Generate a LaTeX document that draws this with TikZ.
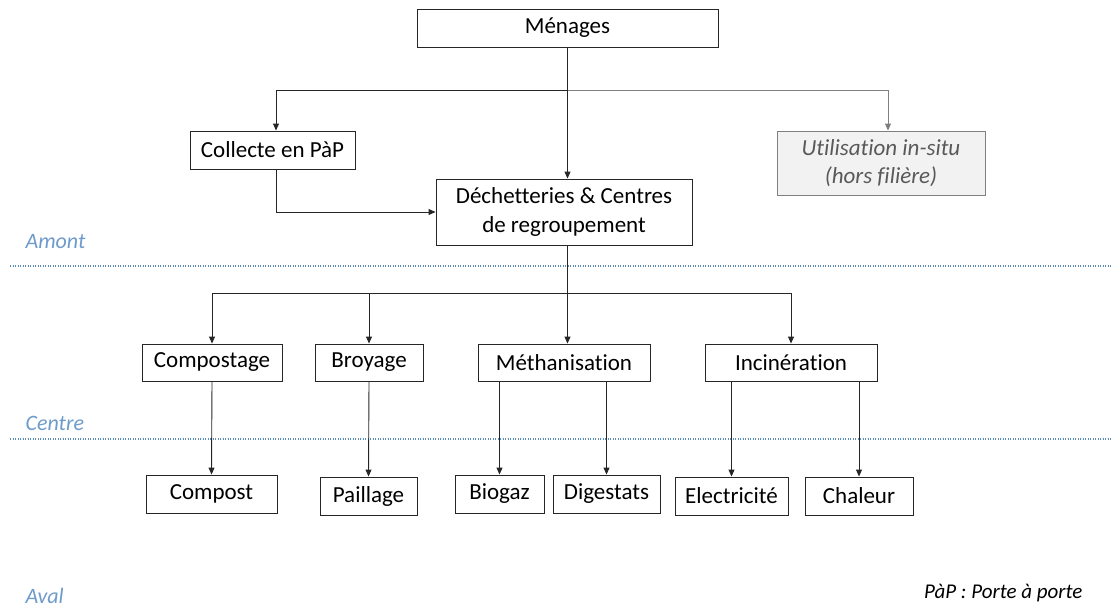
\documentclass[tikz,border=0pt]{standalone}
\usepackage{fontspec}
\setmainfont{Carlito}[Ligatures=NoCommon]
\usetikzlibrary{arrows.meta,calc}
\definecolor{lbl}{HTML}{6E9BCB}
\definecolor{dotc}{HTML}{5B8DB8}
\definecolor{linec}{HTML}{262626}
\definecolor{greyline}{HTML}{7F7F7F}
\begin{document}
\begin{tikzpicture}[x=1pt,y=-1pt,
  box/.style={draw=linec,line width=0.9pt,fill=white,inner sep=0pt,align=center,font=\fontsize{23}{29}\selectfont},
  arr/.style={draw=linec,line width=0.9pt,-{Triangle[length=7pt,width=6pt]}},
  zone/.style={anchor=west,text=lbl,font=\itshape\fontsize{22}{26}\selectfont},
  sep/.style={draw=dotc,line width=1.4pt,dash pattern=on 1.2pt off 1.3pt}]
\useasboundingbox (0,0) rectangle (1113,608);
% top
\node[box,minimum width=301,minimum height=38] (men) at (567.5,28) {Ménages};
\node[box,minimum width=165,minimum height=38] (coll) at (272.5,150) {Collecte en PàP};
\node[box,minimum width=256,minimum height=66] (deche) at (564,212) {Déchetteries \& Centres\\de regroupement};
\node[box,draw=greyline,fill=black!5,text=black!65,font=\itshape\fontsize{23}{28}\selectfont,minimum width=208,minimum height=64] (util) at (881,163) {Utilisation in-situ\\(hors filière)};
% zones
\node[zone] (amont) at (22,242) {Amont};
\node[zone] (centre) at (22,423) {Centre};
\node[zone] (aval) at (22,596) {Aval};
\coordinate (l1a) at (10,266); \coordinate (l1b) at (1113,266);
\coordinate (l2a) at (10,439); \coordinate (l2b) at (1113,439);
\draw[sep] (l1a) -- (l1b);
\draw[sep] (l2a) -- (l2b);
% level 2
\node[box,minimum width=140,minimum height=37] (comp) at (212,362.5) {Compostage};
\node[box,minimum width=108,minimum height=37] (broy) at (369,362.5) {Broyage};
\node[box,minimum width=172,minimum height=37] (meth) at (564,362.5) {Méthanisation};
\node[box,minimum width=172,minimum height=37] (inc) at (791,362.5) {Incinération};
% level 3
\node[box,minimum width=131,minimum height=38] (compost) at (211.5,494) {Compost};
\node[box,minimum width=97,minimum height=38] (paill) at (368.5,496) {Paillage};
\node[box,minimum width=89,minimum height=38] (bio) at (499.5,494) {Biogaz};
\node[box,minimum width=107,minimum height=38] (dig) at (606.5,494) {Digestats};
\node[box,minimum width=113,minimum height=38] (elec) at (731.5,496) {Electricité};
\node[box,minimum width=108,minimum height=38] (chal) at (859,496) {Chaleur};
% footnote
\node[anchor=east,font=\itshape\fontsize{21}{25}\selectfont] (note) at (1086,593) {PàP : Porte à porte};
% connectors
\coordinate (s1) at ($(men.south)+(0,43)$);
\draw[arr] (men.south) -- (men.south |- deche.north);
\draw[arr] (s1) -| ($(coll.north)+(3.5,0)$);
\draw[arr,draw=greyline] (s1) -| ($(util.north)+(7,0)$);
\draw[arr] ($(coll.south)+(3.5,0)$) |- (deche.west);
\coordinate (s2) at ($(men.south |- deche.south)+(0,48)$);
\draw[linec,line width=0.9pt] (men.south |- deche.south) -- (s2);
\draw[arr] (s2) -| (comp.north);
\draw[arr] (s2) -| (broy.north);
\draw[arr] (s2) -- (s2 |- meth.north);
\draw[arr] (s2) -| (inc.north);
\draw[arr] (comp.south) -- (compost.north);
\draw[arr] (broy.south) -- (paill.north);
\draw[arr] (meth.south -| bio.north) -- (bio.north);
\draw[arr] (meth.south -| dig.north) -- (dig.north);
\draw[arr] (inc.south -| elec.north) -- (elec.north);
\draw[arr] (inc.south -| chal.north) -- (chal.north);
\end{tikzpicture}
\end{document}
